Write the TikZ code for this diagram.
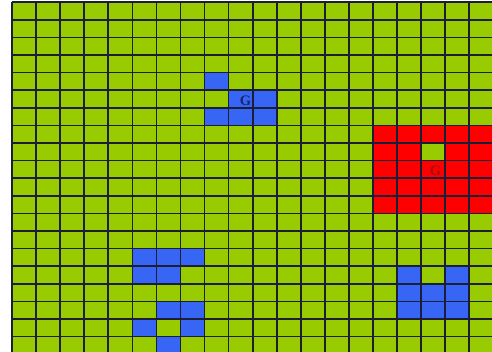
\documentclass[tikz,border=0pt]{standalone}
\usepackage{fontspec}
\setmainfont{Liberation Serif}
\definecolor{gridgreen}{RGB}{153,204,0}
\definecolor{cellblue}{RGB}{55,102,245}
\definecolor{cellred}{RGB}{255,0,0}
\definecolor{gridline}{RGB}{28,30,55}
\definecolor{gnavy}{RGB}{25,35,110}
\definecolor{gdred}{RGB}{165,15,15}
\begin{document}
\begin{tikzpicture}[x=1pt,y=-1pt,
  bluecell/.style={fill=cellblue},
  redcell/.style={fill=cellred},
  greencell/.style={fill=gridgreen},
  gridlines/.style={draw=gridline,line width=1.7pt},
  glabel/.style={font=\bfseries\fontsize{14.5}{14.5}\selectfont,inner sep=0pt}]
\def\xo{12}\def\dx{24.07}\def\yo{2.2}\def\dy{17.6}
\useasboundingbox (0,0) rectangle (492,351);
\fill[white] (0,0) rectangle (492,351);
\begin{scope}
\clip (0,0) rectangle (492,351);
\fill[gridgreen] (\xo,\yo) rectangle (500,360);
% red region
\fill[redcell] (\xo+15*\dx,\yo+7*\dy) rectangle (\xo+20*\dx,\yo+12*\dy);
\fill[greencell] (\xo+17*\dx,\yo+8*\dy) rectangle (\xo+18*\dx,\yo+9*\dy);
% blue cells
\foreach \c/\r in {8/4,9/5,10/5,8/6,9/6,10/6,
  5/14,6/14,7/14,5/15,6/15,6/17,7/17,5/18,7/18,6/19,
  16/15,18/15,16/16,17/16,18/16,16/17,17/17,18/17}
  \fill[bluecell] (\xo+\c*\dx,\yo+\r*\dy) rectangle (\xo+\c*\dx+\dx,\yo+\r*\dy+\dy);
% grid lines
\foreach \k in {0,...,20}
  \draw[gridlines] (\xo+\k*\dx,\yo) -- (\xo+\k*\dx,360);
\foreach \k in {0,...,20}
  \draw[gridlines] (\xo,\yo+\k*\dy) -- (500,\yo+\k*\dy);
\end{scope}
\node[glabel,text=gnavy] (g1) at (245.5,100.5) {G};
\node[glabel,text=gdred] (g2) at (435.5,171) {G};
\end{tikzpicture}
\end{document}
